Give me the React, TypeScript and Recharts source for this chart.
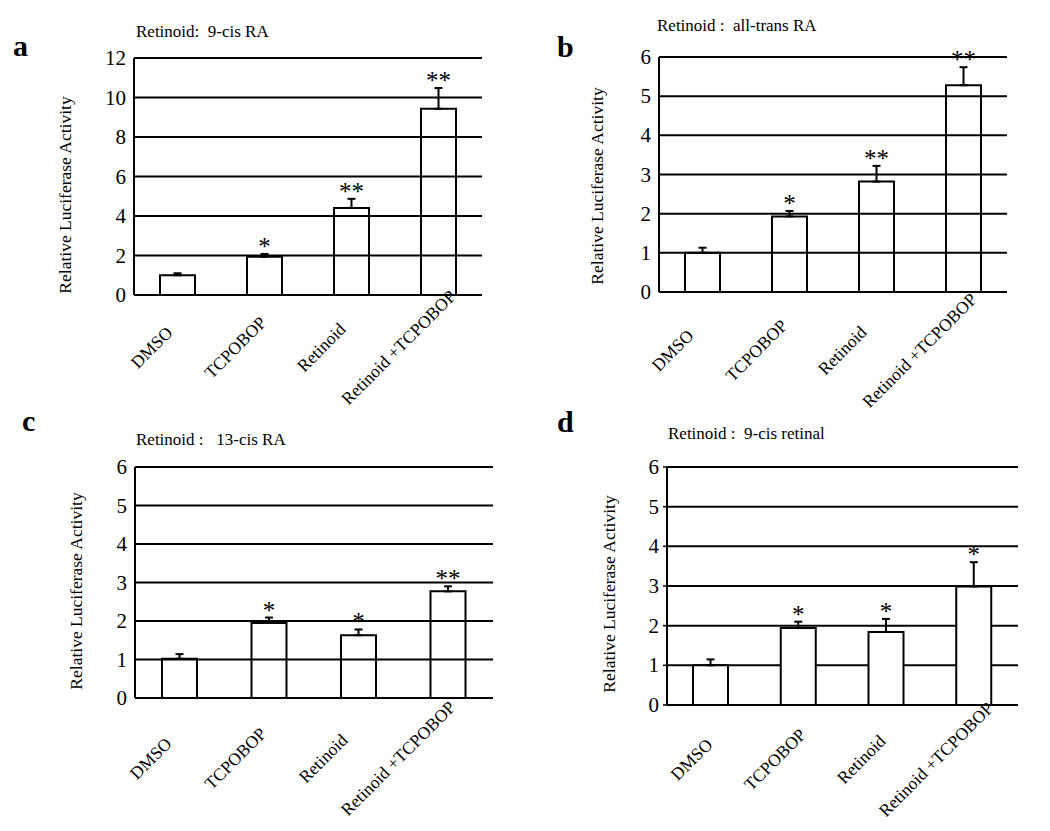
import React from 'react';
import { BarChart, Bar, XAxis, YAxis, CartesianGrid, ErrorBar, LabelList } from 'recharts';

const categories = ['DMSO', 'TCPOBOP', 'Retinoid', 'Retinoid +TCPOBOP'];

// panel a: 9-cis RA
const valuesA = [1.0, 1.94, 4.41, 9.43];
const errorsA = [0.1, 0.14, 0.46, 1.05];
const starsA = ['', '*', '**', '**'];

// panel b: all-trans RA
const valuesB = [1.0, 1.93, 2.82, 5.28];
const errorsB = [0.13, 0.14, 0.4, 0.46];
const starsB = ['', '*', '**', '**'];

// panel c: 13-cis RA
const valuesC = [1.02, 1.95, 1.63, 2.77];
const errorsC = [0.12, 0.14, 0.15, 0.13];
const starsC = ['', '*', '*', '**'];

// panel d: 9-cis retinal
const valuesD = [1.0, 1.94, 1.84, 2.99];
const errorsD = [0.15, 0.16, 0.33, 0.61];
const starsD = ['', '*', '*', '*'];

const ticks12 = [0, 2, 4, 6, 8, 10, 12];
const ticks6 = [0, 1, 2, 3, 4, 5, 6];

const FONT = "'Liberation Serif', 'Times New Roman', serif";

type Row = { name: string; value: number; err: number; errRange: number[]; sig: string };

const buildRows = (values: number[], errors: number[], stars: string[]): Row[] =>
  categories.map((name, i) => ({
    name,
    value: values[i],
    err: errors[i],
    errRange: [0, errors[i]],
    sig: stars[i],
  }));

const makeTick = (dx0: number, k: number, dy: number) => (props: any) => {
  const { x, y, payload } = props;
  const len = String(payload.value).length * 9;
  const cx = x + dx0 - k * len + 3.6;
  const cy = y + dy + 3.6;
  return (
    <text
      x={cx}
      y={cy}
      transform={`rotate(-45 ${cx} ${cy})`}
      textAnchor="middle"
      style={{ fontSize: 17.5, fontFamily: FONT }}
      fill="#000"
    >
      {payload.value}
    </text>
  );
};

const YTick = (props: any) => {
  const { x, y, payload } = props;
  return (
    <text x={x} y={y} dy={7} textAnchor="end" style={{ fontSize: 21, fontFamily: FONT }} fill="#000">
      {payload.value}
    </text>
  );
};

const makeStars = (rows: Row[]) => (props: any) => {
  const vb = props.viewBox || {};
  const bx = props.x ?? vb.x;
  const by = props.y ?? vb.y;
  const bw = props.width ?? vb.width;
  const bh = props.height ?? vb.height;
  const row = rows[props.index];
  if (!row || !row.sig) return null;
  const perUnit = bh / row.value;
  const top = by - row.err * perUnit;
  return (
    <text x={bx + bw / 2} y={top + 1} textAnchor="middle" style={{ fontSize: 25, fontFamily: FONT }} fill="#000">
      {row.sig}
    </text>
  );
};

type PanelProps = {
  rows: Row[];
  yMax: number;
  yTicks: number[];
  left: number;
  top: number;
  width: number;
  height: number;
  margin: { top: number; right: number; bottom: number; left: number };
  fill: string;
  yTickLine: boolean;
  tick: [number, number, number];
};

const Panel: React.FC<PanelProps> = ({ rows, yMax, yTicks, left, top, width, height, margin, fill, yTickLine, tick }) => (
  <div style={{ position: 'absolute', left, top, width, height }}>
    <BarChart width={width} height={height} data={rows} margin={margin} barSize={35}>
      <XAxis
        xAxisId="marks"
        type="number"
        domain={[0, 4]}
        ticks={[1, 2, 3, 4]}
        height={0}
        tick={false}
        axisLine={false}
        tickLine={{ stroke: '#000', strokeWidth: 1.5 }}
        tickSize={4}
      />
      <XAxis
        xAxisId="cat"
        dataKey="name"
        type="category"
        height={100}
        interval={0}
        tickLine={false}
        tickSize={0}
        tickMargin={0}
        axisLine={{ stroke: '#000', strokeWidth: 2 }}
        tick={makeTick(tick[0], tick[1], tick[2])}
      />
      <YAxis
        width={60}
        domain={[0, yMax]}
        ticks={yTicks}
        interval={0}
        axisLine={{ stroke: '#000', strokeWidth: 2 }}
        tickLine={yTickLine ? { stroke: '#000', strokeWidth: 1.5 } : false}
        tickSize={4}
        tickMargin={4}
        tick={<YTick />}
      />
      <CartesianGrid xAxisId="cat" vertical={false} stroke="#000" strokeWidth={2} />
      <Bar xAxisId="cat" dataKey="value" fill={fill} stroke="#000" strokeWidth={2} isAnimationActive={false}>
        <ErrorBar dataKey="errRange" direction="y" width={4} stroke="#000" strokeWidth={2} isAnimationActive={false} />
        <LabelList dataKey="sig" content={makeStars(rows)} />
      </Bar>
    </BarChart>
  </div>
);

const textStyle: React.CSSProperties = { whiteSpace: 'pre', fontSize: 17 };
const yLabelStyle: React.CSSProperties = { fontSize: 17.5 };

const App: React.FC = () => {
  const rowsA = buildRows(valuesA, errorsA, starsA);
  const rowsB = buildRows(valuesB, errorsB, starsB);
  const rowsC = buildRows(valuesC, errorsC, starsC);
  const rowsD = buildRows(valuesD, errorsD, starsD);

  return (
    <div style={{ position: 'absolute', left: 0, top: 0, width: 1050, height: 831, background: '#fff', fontFamily: FONT }}>
      <Panel
        rows={rowsA}
        yMax={12}
        yTicks={ticks12}
        left={0}
        top={0}
        width={520}
        height={420}
        margin={{ top: 58, right: 38, bottom: 25, left: 74 }}
        fill="none"
        yTickLine={false}
        tick={[-21, 0.12, 53]}
      />
      <Panel
        rows={rowsB}
        yMax={6}
        yTicks={ticks6}
        left={520}
        top={0}
        width={530}
        height={420}
        margin={{ top: 57, right: 43, bottom: 28, left: 79 }}
        fill="none"
        yTickLine={false}
        tick={[-25, 0.12, 59]}
      />
      <Panel
        rows={rowsC}
        yMax={6}
        yTicks={ticks6}
        left={0}
        top={420}
        width={520}
        height={411}
        margin={{ top: 47, right: 27, bottom: 33, left: 75 }}
        fill="none"
        yTickLine={false}
        tick={[-22, 0.18, 61]}
      />
      <Panel
        rows={rowsD}
        yMax={6}
        yTicks={ticks6}
        left={520}
        top={420}
        width={530}
        height={411}
        margin={{ top: 47, right: 32, bottom: 26, left: 87 }}
        fill="#fff"
        yTickLine={true}
        tick={[-13, 0.16, 55]}
      />
      <svg width={1050} height={831} style={{ position: 'absolute', left: 0, top: 0, pointerEvents: 'none', fontFamily: FONT }}>
        <g fill="#000">
          <text x={13} y={56} fontSize={30} fontWeight="bold">a</text>
          <text x={557} y={57} fontSize={30} fontWeight="bold">b</text>
          <text x={22} y={431} fontSize={30} fontWeight="bold">c</text>
          <text x={557} y={432} fontSize={30} fontWeight="bold">d</text>

          <text x={136} y={37} style={textStyle}>Retinoid:  9-cis RA</text>
          <text x={657} y={31} style={textStyle}>Retinoid :  all-trans RA</text>
          <text x={136} y={445} style={textStyle}>Retinoid :   13-cis RA</text>
          <text x={668} y={439} style={textStyle}>Retinoid :  9-cis retinal</text>

          <text x={71} y={195} style={yLabelStyle} textAnchor="middle" transform="rotate(-90 71 195)">Relative Luciferase Activity</text>
          <text x={603} y={186} style={yLabelStyle} textAnchor="middle" transform="rotate(-90 603 186)">Relative Luciferase Activity</text>
          <text x={82} y={591} style={yLabelStyle} textAnchor="middle" transform="rotate(-90 82 591)">Relative Luciferase Activity</text>
          <text x={615} y={594} style={yLabelStyle} textAnchor="middle" transform="rotate(-90 615 594)">Relative Luciferase Activity</text>
        </g>
      </svg>
    </div>
  );
};

export default App;
